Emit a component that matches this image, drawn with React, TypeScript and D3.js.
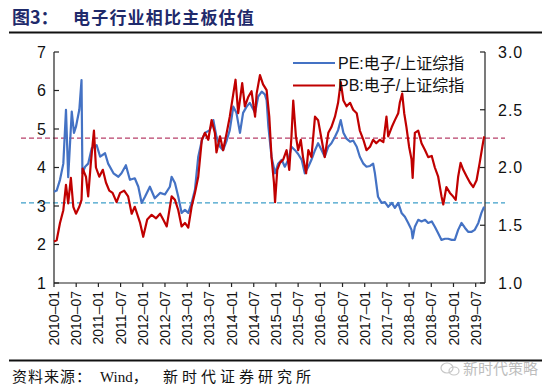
import React from "react";
import * as d3 from "d3";

// PE: 电子/上证综指 (left axis) — [decimal year, value]
const peSeries: [number, number][] = [
  [2010.0, 3.37], [2010.06, 3.4], [2010.135, 3.68], [2010.21, 4.1], [2010.27, 5.5], [2010.32, 3.75],
  [2010.4, 5.45], [2010.45, 4.9], [2010.495, 5.06], [2010.57, 5.5], [2010.62, 6.27], [2010.64, 3.85],
  [2010.7, 4.02], [2010.77, 4.1], [2010.85, 4.5], [2010.96, 4.58], [2011.04, 4.28], [2011.15, 4.37],
  [2011.22, 4.1], [2011.34, 3.85], [2011.45, 3.76], [2011.52, 3.85], [2011.62, 4.06], [2011.71, 3.68],
  [2011.82, 3.72], [2011.9, 3.5], [2011.975, 3.08], [2012.05, 3.24], [2012.16, 3.5], [2012.27, 3.2],
  [2012.39, 3.34], [2012.5, 3.3], [2012.61, 3.5], [2012.65, 3.76], [2012.725, 3.6], [2012.8, 3.24],
  [2012.875, 2.82], [2012.95, 2.9], [2013.025, 2.82], [2013.1, 3.08], [2013.175, 3.42], [2013.25, 4.28],
  [2013.33, 4.7], [2013.4, 4.9], [2013.51, 4.97], [2013.59, 5.23], [2013.66, 4.8], [2013.74, 4.54],
  [2013.81, 4.45], [2013.89, 4.7], [2013.96, 4.97], [2014.04, 5.58], [2014.11, 5.42], [2014.19, 4.9],
  [2014.26, 5.42], [2014.34, 5.58], [2014.41, 5.68], [2014.53, 5.42], [2014.6, 5.84], [2014.68, 5.97],
  [2014.75, 5.9], [2014.79, 5.75], [2014.83, 5.06], [2014.9, 4.28], [2014.98, 3.85], [2015.05, 4.1],
  [2015.13, 4.2], [2015.2, 4.02], [2015.28, 4.2], [2015.35, 4.54], [2015.43, 4.45], [2015.5, 4.35],
  [2015.58, 4.2], [2015.65, 3.85], [2015.73, 4.02], [2015.8, 4.2], [2015.88, 4.45], [2015.95, 4.63],
  [2016.03, 4.45], [2016.1, 4.28], [2016.18, 4.54], [2016.25, 4.63], [2016.33, 4.8], [2016.4, 4.97],
  [2016.46, 5.23], [2016.52, 4.9], [2016.59, 4.75], [2016.67, 4.67], [2016.74, 4.7], [2016.82, 4.54],
  [2016.89, 4.28], [2016.97, 4.1], [2017.04, 4.02], [2017.12, 4.04], [2017.19, 4.1], [2017.23, 3.85],
  [2017.3, 3.24], [2017.38, 3.08], [2017.455, 3.1], [2017.53, 2.98], [2017.61, 3.08], [2017.68, 2.95],
  [2017.755, 3.08], [2017.83, 2.82], [2017.905, 2.72], [2017.98, 2.56], [2018.055, 2.38], [2018.08, 2.16],
  [2018.13, 2.46], [2018.205, 2.64], [2018.28, 2.6], [2018.36, 2.64], [2018.43, 2.56], [2018.51, 2.6],
  [2018.58, 2.46], [2018.655, 2.29], [2018.73, 2.12], [2018.81, 2.15], [2018.88, 2.15], [2018.96, 2.12],
  [2019.03, 2.12], [2019.105, 2.38], [2019.18, 2.56], [2019.26, 2.43], [2019.33, 2.33], [2019.41, 2.33],
  [2019.48, 2.38], [2019.56, 2.56], [2019.63, 2.82], [2019.69, 2.98],
];

// PB: 电子/上证综指 (right axis) — [decimal year, value]
const pbSeries: [number, number][] = [
  [2010.0, 1.36], [2010.06, 1.37], [2010.135, 1.52], [2010.21, 1.63], [2010.27, 1.85], [2010.32, 1.69],
  [2010.38, 1.91], [2010.435, 1.66], [2010.495, 1.6], [2010.57, 1.66], [2010.62, 1.72], [2010.645, 1.99],
  [2010.72, 1.92], [2010.77, 1.75], [2010.83, 2.04], [2010.9, 2.32], [2010.945, 2.0], [2011.02, 1.92],
  [2011.1, 1.98], [2011.17, 1.87], [2011.245, 1.8], [2011.32, 1.78], [2011.41, 1.7], [2011.49, 1.78],
  [2011.58, 1.8], [2011.67, 1.75], [2011.75, 1.6], [2011.82, 1.66], [2011.94, 1.52], [2012.01, 1.4],
  [2012.1, 1.55], [2012.2, 1.59], [2012.3, 1.56], [2012.39, 1.6], [2012.46, 1.55], [2012.54, 1.49],
  [2012.65, 1.75], [2012.725, 1.72], [2012.8, 1.63], [2012.875, 1.49], [2012.95, 1.52], [2013.025, 1.48],
  [2013.1, 1.66], [2013.175, 1.78], [2013.25, 1.92], [2013.33, 2.24], [2013.4, 2.3], [2013.475, 2.24],
  [2013.55, 2.41], [2013.625, 2.3], [2013.66, 2.13], [2013.74, 2.27], [2013.81, 2.15], [2013.89, 2.3],
  [2013.96, 2.44], [2014.04, 2.64], [2014.09, 2.76], [2014.15, 2.47], [2014.24, 2.73], [2014.3, 2.53],
  [2014.375, 2.61], [2014.45, 2.66], [2014.53, 2.44], [2014.565, 2.64], [2014.64, 2.8], [2014.71, 2.72],
  [2014.79, 2.67], [2014.85, 2.44], [2014.9, 2.09], [2014.955, 1.87], [2014.98, 1.7], [2015.03, 1.98],
  [2015.09, 2.04], [2015.165, 2.07], [2015.24, 2.15], [2015.3, 1.98], [2015.35, 2.27], [2015.39, 2.58],
  [2015.45, 2.27], [2015.5, 2.15], [2015.56, 2.24], [2015.61, 2.09], [2015.68, 1.95], [2015.73, 2.15],
  [2015.8, 2.09], [2015.88, 2.44], [2015.95, 2.41], [2016.03, 2.24], [2016.1, 2.09], [2016.18, 2.3],
  [2016.25, 2.35], [2016.33, 2.44], [2016.4, 2.56], [2016.46, 2.74], [2016.52, 2.58], [2016.59, 2.53],
  [2016.67, 2.56], [2016.74, 2.5], [2016.82, 2.47], [2016.89, 2.32], [2016.97, 2.24], [2017.04, 2.15],
  [2017.12, 2.18], [2017.19, 2.24], [2017.26, 2.21], [2017.34, 2.24], [2017.42, 2.22], [2017.49, 2.44],
  [2017.53, 2.27], [2017.61, 2.35], [2017.68, 2.41], [2017.755, 2.47], [2017.79, 2.56], [2017.845, 2.64],
  [2017.89, 2.47], [2017.94, 2.35], [2018.0, 2.18], [2018.055, 2.07], [2018.08, 1.91], [2018.13, 2.3],
  [2018.205, 2.32], [2018.28, 2.21], [2018.36, 2.15], [2018.43, 2.09], [2018.51, 2.1], [2018.58, 2.0],
  [2018.655, 1.92], [2018.73, 1.75], [2018.77, 1.68], [2018.84, 1.83], [2018.92, 1.78], [2018.99, 1.75],
  [2019.05, 1.72], [2019.105, 1.92], [2019.16, 2.04], [2019.22, 1.98], [2019.3, 1.92], [2019.37, 1.87],
  [2019.445, 1.83], [2019.52, 1.89], [2019.59, 2.04], [2019.65, 2.18], [2019.69, 2.27],
];

const peMean = 3.08;
const pbMean = 2.255;

const xTickLabels = [
  "2010-01", "2010-07", "2011-01", "2011-07", "2012-01", "2012-07", "2013-01", "2013-07",
  "2014-01", "2014-07", "2015-01", "2015-07", "2016-01", "2016-07", "2017-01", "2017-07",
  "2018-01", "2018-07", "2019-01", "2019-07",
];
const leftTicks = [1, 2, 3, 4, 5, 6, 7];
const rightTicks = [1.0, 1.5, 2.0, 2.5, 3.0];

const legendLabels = ["PE:电子/上证综指", "PB:电子/上证综指"];
const titleLabel = "图3：";
const titleText = "电子行业相比主板估值";

const BLUE = "#4472C4";
const RED = "#C00000";

export default function App() {
  const x = d3.scaleLinear().domain([2010, 2019.71]).range([54, 485]);
  const yL = d3.scaleLinear().domain([1, 7]).range([283, 52]);
  const yR = d3.scaleLinear().domain([1, 3]).range([283, 52]);

  const peLine = d3
    .line<[number, number]>()
    .x((d) => x(d[0]))
    .y((d) => yL(d[1]));
  const pbLine = d3
    .line<[number, number]>()
    .x((d) => x(d[0]))
    .y((d) => yR(d[1]));

  const tickPos = (s: string) => {
    const [yy, mm] = s.split("-").map(Number);
    return yy + (mm - 1) / 12;
  };

  const sans = "'Liberation Sans', Arial, 'Noto Sans CJK SC', sans-serif";
  const serif = "'Liberation Serif', 'Noto Sans CJK SC', serif";

  return (
    <svg
      width={550}
      height={391}
      style={{ position: "fixed", left: 0, top: 0, background: "#fff" }}
    >
      <rect x={0} y={0} width={550} height={391} fill="#fff" />
      {/* Title */}
      <text x={12} y={24} fontFamily="'Noto Sans CJK SC', sans-serif" fontWeight="bold" fontSize={18} fill="#1F2A6B">
        {titleLabel}
      </text>
      <text x={73} y={24} fontFamily="'Noto Sans CJK SC', sans-serif" fontWeight="bold" fontSize={17} letterSpacing={1.2} fill="#1F2A6B">
        {titleText}
      </text>
      <line x1={9} x2={542} y1={32.5} y2={32.5} stroke="#111" strokeWidth={2} />

      {/* mean dashed lines */}
      <line x1={21} x2={505} y1={yR(pbMean)} y2={yR(pbMean)} stroke="#B8406A" strokeWidth={1.3} strokeDasharray="5,3" />
      <line x1={21} x2={505} y1={yL(peMean)} y2={yL(peMean)} stroke="#3E9FC9" strokeWidth={1.3} strokeDasharray="5,3" />

      {/* Axes */}
      <line x1={54} x2={54} y1={52} y2={283} stroke="#222" strokeWidth={1.2} />
      <line x1={485} x2={485} y1={52} y2={283} stroke="#222" strokeWidth={1.2} />
      <line x1={54} x2={485} y1={283} y2={283} stroke="#222" strokeWidth={1.2} />
      {leftTicks.map((v) => (
        <g key={"l" + v}>
          <line x1={54} x2={59} y1={yL(v)} y2={yL(v)} stroke="#222" strokeWidth={1.2} />
          <text x={46} y={yL(v)} dy="0.36em" textAnchor="end" fontFamily={sans} fontSize={16} fill="#111">
            {v}
          </text>
        </g>
      ))}
      {rightTicks.map((v) => (
        <g key={"r" + v}>
          <line x1={480} x2={485} y1={yR(v)} y2={yR(v)} stroke="#222" strokeWidth={1.2} />
          <text x={498} y={yR(v)} dy="0.36em" textAnchor="start" fontFamily={sans} fontSize={16} letterSpacing={1} fill="#111">
            {v.toFixed(1)}
          </text>
        </g>
      ))}
      {xTickLabels.map((s) => {
        const px = x(tickPos(s));
        return (
          <g key={s}>
            <line x1={px} x2={px} y1={283} y2={287} stroke="#222" strokeWidth={1.2} />
            <text
              transform={`translate(${px},291) rotate(-90)`}
              dy="0.36em"
              textAnchor="end"
              fontFamily={sans}
              fontSize={14}
              fill="#111"
            >
              {s.replace("-", "–")}
            </text>
          </g>
        );
      })}

      {/* Series */}
      <path d={peLine(peSeries) || ""} fill="none" stroke={BLUE} strokeWidth={2.2} strokeLinejoin="round" />
      <path d={pbLine(pbSeries) || ""} fill="none" stroke={RED} strokeWidth={2.2} strokeLinejoin="round" />

      {/* Legend */}
      <line x1={293} x2={335} y1={63} y2={63} stroke={BLUE} strokeWidth={2.2} />
      <text x={338} y={63} dy="0.36em" fontFamily={sans} fontSize={16} fill="#111">
        {legendLabels[0]}
      </text>
      <line x1={293} x2={335} y1={85.5} y2={85.5} stroke={RED} strokeWidth={2.2} />
      <text x={338} y={85.5} dy="0.36em" fontFamily={sans} fontSize={16} fill="#111">
        {legendLabels[1]}
      </text>

      {/* Footer */}
      <line x1={9} x2={542} y1={360.5} y2={360.5} stroke="#111" strokeWidth={2} />
      <text x={12} y={382} fontFamily={serif} fontSize={15} letterSpacing={1} fill="#111">
        资料来源：
      </text>
      <text x={100} y={382} fontFamily={serif} fontSize={15} fill="#111">
        Wind，
      </text>
      <text x={163} y={382} fontFamily={serif} fontSize={15} letterSpacing={4} fill="#111">
        新时代证券研究所
      </text>

      {/* Watermark */}
      <g opacity={0.55}>
        <ellipse cx={447} cy={368} rx={6} ry={5} fill="none" stroke="#999" strokeWidth={1.2} />
        <ellipse cx={454} cy={371} rx={5} ry={4} fill="none" stroke="#999" strokeWidth={1.2} />
        <text x={463} y={374} fontFamily="'Noto Sans CJK SC', sans-serif" fontSize={15} fill="#888">
          新时代策略
        </text>
      </g>
    </svg>
  );
}
